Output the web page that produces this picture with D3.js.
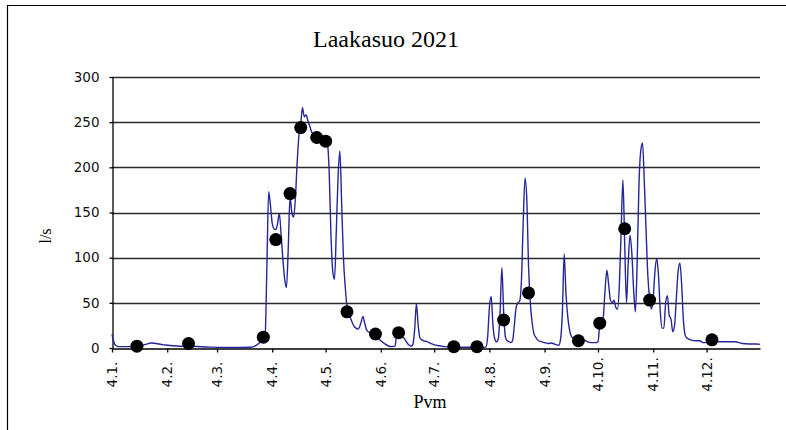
<!DOCTYPE html>
<html><head><meta charset="utf-8">
<script src="https://cdn.jsdelivr.net/npm/d3@7"></script>
<style>body{margin:0;background:#fff}svg{display:block}</style>
</head><body>
<svg id="c" width="786" height="430"></svg>
<script>
const chartTitle = "Laakasuo 2021";
const xLabel = "Pvm";
const yLabel = "l/s";
const yTicks = [0, 50, 100, 150, 200, 250, 300];
const tickDates = ["2021-01-04","2021-02-04","2021-03-04","2021-04-04","2021-05-04","2021-06-04","2021-07-04","2021-08-04","2021-09-04","2021-10-04","2021-11-04","2021-12-04"];
const tickLabels = ["4.1.","4.2.","4.3.","4.4.","4.5.","4.6.","4.7.","4.8.","4.9.","4.10.","4.11.","4.12."];
const xDomain = ["2021-01-04", "2022-01-03"];

// daily flow (line)
const flowDates = [
"2021-01-04","2021-01-05","2021-01-06","2021-01-08","2021-01-11","2021-01-18","2021-01-23","2021-01-26","2021-02-02","2021-02-11","2021-02-16","2021-02-28",
"2021-03-11","2021-03-23","2021-03-26","2021-03-29","2021-03-31","2021-04-01","2021-04-02","2021-04-03","2021-04-04","2021-04-05","2021-04-06","2021-04-07",
"2021-04-08","2021-04-09","2021-04-10","2021-04-11","2021-04-12","2021-04-13","2021-04-14","2021-04-15","2021-04-16","2021-04-17","2021-04-18","2021-04-19",
"2021-04-20","2021-04-21","2021-04-22","2021-04-23","2021-04-24","2021-04-25","2021-04-26","2021-04-27","2021-04-28","2021-04-29","2021-04-30","2021-05-01",
"2021-05-02","2021-05-03","2021-05-04","2021-05-05","2021-05-06","2021-05-07","2021-05-08","2021-05-09","2021-05-10","2021-05-11","2021-05-12","2021-05-13",
"2021-05-14","2021-05-15","2021-05-16","2021-05-17","2021-05-18","2021-05-19","2021-05-20","2021-05-21","2021-05-22","2021-05-23","2021-05-24","2021-05-25",
"2021-05-26","2021-05-27","2021-05-28","2021-05-29","2021-05-30","2021-05-31","2021-06-01","2021-06-02","2021-06-03","2021-06-04","2021-06-06","2021-06-08",
"2021-06-10","2021-06-12","2021-06-13","2021-06-14","2021-06-15","2021-06-16","2021-06-17","2021-06-18","2021-06-19","2021-06-20","2021-06-21","2021-06-22",
"2021-06-23","2021-06-24","2021-06-25","2021-06-26","2021-06-27","2021-06-28","2021-06-30","2021-07-02","2021-07-04","2021-07-07","2021-07-10","2021-07-15",
"2021-07-20","2021-07-25","2021-07-30","2021-08-02","2021-08-03","2021-08-04","2021-08-05","2021-08-06","2021-08-07","2021-08-08","2021-08-09","2021-08-10",
"2021-08-11","2021-08-12","2021-08-13","2021-08-14","2021-08-15","2021-08-16","2021-08-17","2021-08-18","2021-08-19","2021-08-20","2021-08-21","2021-08-22",
"2021-08-23","2021-08-24","2021-08-25","2021-08-26","2021-08-27","2021-08-28","2021-08-29","2021-08-30","2021-08-31","2021-09-02","2021-09-04","2021-09-06",
"2021-09-08","2021-09-10","2021-09-12","2021-09-13","2021-09-14","2021-09-15","2021-09-16","2021-09-17","2021-09-18","2021-09-19","2021-09-20","2021-09-22",
"2021-09-26","2021-09-28","2021-09-30","2021-10-03","2021-10-04","2021-10-05","2021-10-06","2021-10-07","2021-10-08","2021-10-09","2021-10-10","2021-10-11",
"2021-10-12","2021-10-13","2021-10-14","2021-10-15","2021-10-16","2021-10-17","2021-10-18","2021-10-19","2021-10-20","2021-10-21","2021-10-22","2021-10-23",
"2021-10-24","2021-10-25","2021-10-26","2021-10-27","2021-10-28","2021-10-29","2021-10-30","2021-10-31","2021-11-01","2021-11-02","2021-11-03","2021-11-04",
"2021-11-05","2021-11-06","2021-11-07","2021-11-08","2021-11-09","2021-11-10","2021-11-11","2021-11-12","2021-11-13","2021-11-14","2021-11-15","2021-11-16",
"2021-11-17","2021-11-18","2021-11-19","2021-11-20","2021-11-21","2021-11-22","2021-11-23","2021-11-25","2021-11-28","2021-11-30","2021-12-02","2021-12-04",
"2021-12-06","2021-12-08","2021-12-10","2021-12-15","2021-12-20","2021-12-24","2021-12-28","2022-01-01","2022-01-03"];
const flowValues = [
15,7,3,1.5,1.5,1.5,4,5.5,3.5,2,2,1,
0.5,0.8,3,8,13,90,173,158,138,132,131,138,
149,125,98,76,67,110,168,150,145,165,205,235,
248,266,256,258,252,246,240,236,233,232,231,230,
230,229,229,226,195,125,85,76,130,190,218,160,
100,68,46,38,33,28,24,22,21,23,29,35,
27,20,18,17,16,15,14,12,10,8,5,2.5,
1.5,2,16,17,13,12,11,8,5,3,2,4,
20,49,25,11,9,8,7,5,3.5,2.5,1.5,1,
0.8,0.8,0.7,1,12,45,57,25,10,7,10,40,
89,40,12,8,7,6,8,25,45,50,52,75,
140,188,165,90,50,28,16,12,9,7,6,5,
5.5,4,3,10,40,104,60,35,20,13,11,9,
9,7,6,6,7,25,28,35,65,86,70,53,
50,53,45,43,70,130,186,115,50,95,125,105,
65,40,95,180,218,227,185,130,80,55,43,55,
85,99,80,40,22,22,50,58,36,32,18,25,
55,85,94,70,30,14,11,9,8,8,6,6,
8,8,7,7,7,5,4.5,4.5,4];

// measurements (dots)
const sampleDates = ["2021-01-18","2021-02-16","2021-03-30","2021-04-06","2021-04-14","2021-04-20","2021-04-29","2021-05-04","2021-05-16","2021-06-01",
"2021-06-14","2021-07-15","2021-07-28","2021-08-12","2021-08-26","2021-09-23","2021-10-05","2021-10-19","2021-11-02","2021-12-07"];
const sampleValues = [2,5,12,120,171,244,233,229,40,15.5,17,1.5,1.5,31,61,8,27.5,132,53,9];

const parse = d3.utcParse("%Y-%m-%d");
const L = 112, R = 760, T = 77, B = 348;
const svg = d3.select("#c");

// outer frame (clipped by the picture edges)
svg.append("path").attr("d", "M7.5,430 L7.5,5.5 L786,5.5")
  .attr("fill", "none").attr("stroke", "#000").attr("stroke-width", 1.2);

const x = d3.scaleUtc().domain(xDomain.map(parse)).range([L, R]);
const y = d3.scaleLinear().domain([0, 300]).range([B, T]);

// gridlines
svg.append("g").selectAll("line").data(yTicks.filter(v => v > 0)).join("line")
  .attr("x1", L).attr("x2", R)
  .attr("y1", d => Math.round(y(d)) + 0.5).attr("y2", d => Math.round(y(d)) + 0.5)
  .attr("stroke", "#2a2a2a").attr("stroke-width", 1.5);

// y axis
const gy = svg.append("g").attr("transform", `translate(${L + 0.5},0)`)
  .call(d3.axisLeft(y).tickValues(yTicks).tickSize(3).tickSizeOuter(0).tickPadding(10));
gy.selectAll("path,line").attr("stroke", "#000").attr("stroke-width", 1.3);
gy.selectAll("text").attr("font-family", "DejaVu Sans").attr("font-size", 13.5).attr("fill", "#111");

// x axis
const gx = svg.append("g").attr("transform", `translate(0,${B + 0.5})`)
  .call(d3.axisBottom(x).tickValues(tickDates.map(parse)).tickSize(4).tickSizeOuter(0)
    .tickFormat((d, i) => tickLabels[i]));
gx.selectAll("path,line").attr("stroke", "#000").attr("stroke-width", 1.3);
gx.selectAll("text")
  .attr("font-family", "DejaVu Sans").attr("font-size", 13.5).attr("fill", "#111")
  .attr("x", 0).attr("y", 0).attr("dy", "0.35em")
  .attr("text-anchor", "middle")
  .attr("transform", "translate(0,26) rotate(-90)");

// line
const flow = flowDates.map((d, i) => ({ date: parse(d), v: flowValues[i] }));
svg.append("path").datum(flow)
  .attr("fill", "none").attr("stroke", "#26269a").attr("stroke-width", 1.4)
  .attr("d", d3.line().x(d => x(d.date)).y(d => y(d.v)).curve(d3.curveMonotoneX));

// dots
const samples = sampleDates.map((d, i) => ({ date: parse(d), v: sampleValues[i] }));
svg.append("g").selectAll("circle").data(samples).join("circle")
  .attr("cx", d => x(d.date)).attr("cy", d => y(d.v)).attr("r", 6.5).attr("fill", "#000");

// titles
svg.append("text").attr("x", 386).attr("y", 47).attr("text-anchor", "middle")
  .attr("font-family", "Liberation Serif").attr("font-size", 24).attr("fill", "#000").text(chartTitle);
svg.append("text").attr("x", 430).attr("y", 408).attr("text-anchor", "middle")
  .attr("font-family", "Liberation Serif").attr("font-size", 18).attr("fill", "#000").text(xLabel);
svg.append("text").attr("transform", "translate(51,236) rotate(-90)").attr("text-anchor", "middle")
  .attr("font-family", "Liberation Serif").attr("font-size", 16).attr("fill", "#000").text(yLabel);
</script>
</body></html>
